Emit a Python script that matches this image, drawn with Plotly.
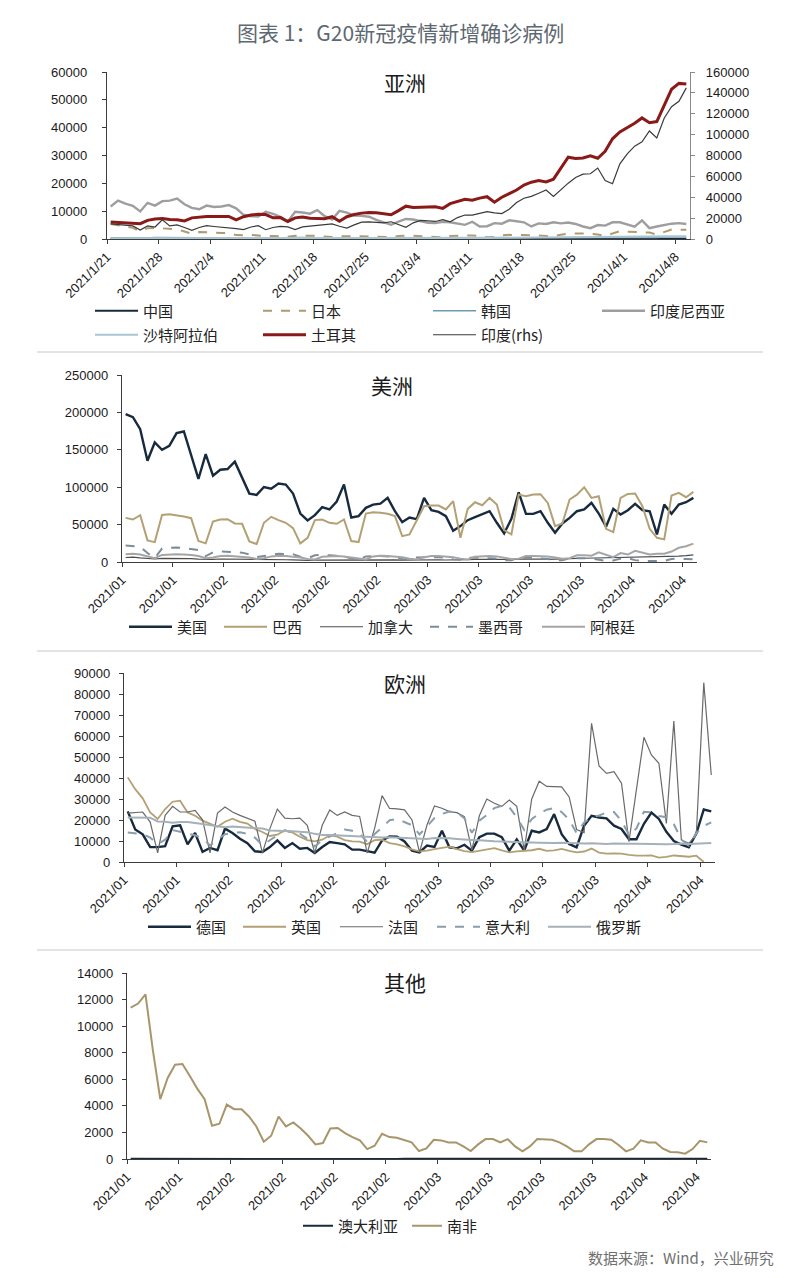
import plotly.graph_objects as go
import pandas as pd

# page body has an 8px margin; the figure is sized to fill the rest of the window
PAGE_W, PAGE_H = 800, 1278
OFF = 8
W, H = PAGE_W - 2 * OFF, PAGE_H - 2 * OFF

# ---------------- data (daily, 2021-01-21 .. 2021-04-09) ----------------
asia_ticktext = ['2021/1/21', '2021/1/28', '2021/2/4', '2021/2/11', '2021/2/18', '2021/2/25',
                 '2021/3/4', '2021/3/11', '2021/3/18', '2021/3/25', '2021/4/1', '2021/4/8']
month_ticktext = ['2021/01', '2021/01', '2021/02', '2021/02', '2021/02', '2021/02',
                  '2021/03', '2021/03', '2021/03', '2021/03', '2021/04', '2021/04']

# Asia
china = [140, 100, 80, 120, 80, 60, 80, 50, 60, 50,
         40, 30, 20, 20, 15, 15, 15, 10, 15, 15,
         10, 10, 10, 10, 10, 10, 10, 10, 10, 10,
         10, 10, 10, 10, 15, 10, 10, 10, 10, 10,
         10, 15, 15, 10, 10, 10, 10, 10, 15, 15,
         10, 10, 10, 10, 10, 15, 15, 15, 15, 15,
         15, 15, 15, 15, 10, 15, 20, 20, 20, 30,
         30, 30, 30, 25, 20, 30, 40, 30, 30]
japan = [5400, 5000, 4600, 4000, 2800, 3900, 4000, 3900, 3700, 3500,
         2700, 1900, 2500, 2500, 2300, 2200, 2100, 1400, 1300, 1500,
         1300, 1000, 1100, 1000, 800, 1200, 1300, 1200, 1100, 900,
         700, 1000, 1100, 1000, 1000, 900, 1000, 800, 700, 1100,
         1200, 1200, 1000, 900, 700, 600, 1100, 1200, 1200, 1300,
         1100, 600, 700, 1300, 1500, 1500, 1500, 1400, 1300, 1100,
         1100, 1500, 1900, 2000, 2000, 1900, 1600, 1100, 2000, 2800,
         2600, 2500, 2500, 2300, 1600, 2600, 3400, 3300, 3300]
korea = [400, 350, 390, 430, 440, 350, 560, 500, 470, 450,
         350, 300, 460, 470, 400, 390, 340, 300, 450, 500,
         400, 400, 340, 450, 620, 600, 560, 620, 460, 330,
         360, 440, 390, 400, 360, 350, 400, 420, 350, 340,
         400, 470, 460, 470, 450, 380, 360, 460, 460, 470,
         390, 420, 350, 360, 420, 450, 460, 500, 500, 480,
         420, 440, 480, 430, 380, 450, 440, 500, 550, 560,
         540, 560, 480, 460, 480, 670, 700, 680, 670]
indonesia = [11700, 13800, 12700, 11900, 9900, 13000, 12000, 13600, 13800, 14500,
             12500, 11200, 10700, 12000, 11500, 11700, 12200, 11000, 8700, 8200,
             8100, 9800, 9000, 8000, 6300, 9800, 9500, 9100, 10400, 8200,
             7000, 10100, 9500, 8400, 8300, 8000, 6900, 6000, 5100, 6200,
             7200, 7000, 6500, 5800, 5700, 6200, 6000, 5500, 5100, 6200,
             4500, 4600, 5700, 5500, 6700, 6400, 6000, 4500, 5600, 5400,
             6000, 5600, 5900, 5400, 4500, 3900, 5000, 4800, 6000, 6000,
             5200, 4400, 6700, 3900, 4500, 5000, 5500, 5700, 5400]
saudi = [230, 240, 230, 230, 220, 210, 220, 240, 250, 260,
         270, 280, 300, 300, 320, 330, 340, 350, 360, 330,
         320, 320, 310, 310, 300, 310, 320, 330, 340, 340,
         350, 340, 330, 330, 320, 340, 360, 360, 370, 380,
         380, 380, 380, 380, 390, 380, 380, 390, 400, 400,
         410, 400, 410, 420, 440, 460, 480, 500, 520, 560,
         600, 620, 660, 690, 720, 760, 780, 800, 820, 830,
         850, 870, 890, 900, 880, 900, 920, 950, 930]
turkey = [6100, 5900, 5900, 5500, 5500, 6700, 7200, 7400, 7000, 6900,
          6500, 7600, 7900, 8100, 8100, 8100, 8100, 6900, 8000, 8600,
          8900, 8800, 7600, 7700, 6300, 7600, 7900, 7500, 7400, 7300,
          8000, 6400, 8000, 8800, 9300, 9500, 9400, 9000, 8700, 10200,
          11800, 11300, 11300, 11500, 11600, 11000, 12700, 13400, 14300, 13900,
          14700, 15200, 13200, 15000, 16200, 17600, 19400, 20400, 21000, 20500,
          21500, 25500, 29400, 28900, 29100, 29900, 29000, 31500, 36000, 38500,
          40000, 41600, 43500, 41800, 42200, 48000, 53800, 55900, 55700]
india = [14500, 13800, 13500, 12500, 8500, 12500, 11500, 18400, 12500, 13500,
         11000, 8300, 11000, 12800, 12000, 11500, 11000, 10000, 9000, 11500,
         12700, 8900, 11000, 12100, 11600, 9000, 11600, 12200, 13200, 13800,
         14400, 12200, 10500, 13500, 16200, 16500, 16000, 15500, 16500, 14000,
         11200, 15500, 17800, 17400, 16800, 18500, 16500, 20500, 23000, 22800,
         24500, 26300, 25000, 24400, 28500, 35000, 39000, 40800, 43800, 47000,
         40800, 47200, 53500, 59000, 62200, 62500, 68000, 56000, 53000, 72000,
         81500, 89000, 93200, 103500, 96900, 115700, 126800, 132000, 144800]

# Americas
usa = [197600, 193600, 177600, 135400, 159800, 150000, 155400, 172300, 174500, 142000,
       111000, 144300, 115400, 123400, 124300, 134100, 113700, 91500, 89700, 100300,
       98100, 104800, 103500, 91500, 64800, 55500, 62600, 73300, 70200, 80800,
       103500, 59500, 61300, 72400, 76800, 78100, 85700, 67900, 53300, 59500,
       57300, 85700, 69300, 67000, 61300, 41700, 48000, 55900, 59900, 63500,
       67900, 52400, 38200, 57700, 93200, 64400, 64400, 67900, 52400, 39100,
       51500, 59000, 67900, 70200, 79000, 64800, 47100, 71000, 63500, 69300,
       77700, 69300, 67900, 36900, 76800, 64400, 76800, 79900, 85700]
brazil = [59000, 56800, 62600, 28900, 26600, 63000, 63900, 62600, 60800, 58600,
          28000, 24900, 54200, 56800, 57300, 51500, 51100, 27500, 24000, 52400,
          60400, 56000, 52400, 45300, 24900, 32400, 56000, 56800, 52400, 51100,
          56800, 28000, 26600, 64800, 66600, 65700, 64400, 61300, 34600, 36900,
          56800, 74600, 75500, 75500, 70200, 81300, 32400, 71000, 79900, 75900,
          85700, 76800, 42600, 36900, 90100, 87900, 90100, 90600, 79000, 48000,
          51500, 83500, 90100, 99900, 85700, 87900, 44400, 40000, 85700, 91000,
          91500, 74600, 44400, 32400, 30200, 88800, 92400, 86600, 93700]
canada = [6000, 6500, 5500, 4500, 4000, 4800, 5000, 5200, 4800, 4600,
          3800, 3200, 3500, 4000, 3800, 3700, 3500, 3000, 2800, 3000,
          3200, 3100, 3000, 2900, 2300, 2200, 2500, 2600, 2800, 3000,
          2900, 2200, 2300, 2800, 3000, 3000, 3100, 2800, 2500, 2800,
          2900, 3100, 3000, 3000, 2700, 2600, 2800, 3200, 3400, 3400,
          3400, 3200, 2600, 3500, 3800, 4000, 4200, 4000, 3500, 3600,
          4200, 4600, 4800, 5000, 5200, 4800, 5300, 5500, 5800, 6000,
          6500, 6000, 6200, 6800, 6500, 7000, 7800, 8500, 9500]
mexico = [22000, 21000, 20500, 12000, 5500, 18000, 19000, 19500, 18500, 17500,
          16000, 8000, 13000, 14000, 13500, 14000, 12500, 10000, 6500, 8000,
          10000, 11000, 10500, 10500, 7000, 5000, 9000, 9500, 9000, 8500,
          7500, 4500, 3000, 7500, 8000, 8000, 7500, 6500, 4000, 3500,
          6000, 6500, 7000, 6500, 5500, 3500, 3000, 5500, 6000, 6000,
          5000, 4500, 2500, 2500, 5500, 6000, 5500, 5000, 4000, 2500,
          2500, 5000, 5500, 5000, 4500, 3500, 1500, 2000, 4500, 5000,
          2500, 1500, 1500, 800, 1500, 4000, 4500, 4000, 3500]
argentina = [10500, 11000, 10000, 8000, 5000, 9500, 10500, 10500, 10000, 9500,
             8000, 5000, 6000, 8000, 8500, 8000, 7500, 6000, 4000, 5000,
             7500, 8500, 8000, 7500, 6000, 4000, 3500, 7000, 8000, 8000,
             7500, 6000, 4000, 3500, 7500, 8500, 8000, 7500, 6500, 4500,
             3500, 6500, 8000, 8000, 7500, 6500, 4500, 3500, 7000, 8000,
             8000, 7500, 6000, 4000, 4500, 8000, 8000, 8000, 7500, 6000,
             4500, 5000, 9000, 9000, 8500, 13000, 10000, 6500, 12000, 10000,
             15000, 12500, 10000, 11000, 11000, 14000, 19000, 21000, 24500]

# Europe
germany = [24100, 15500, 13200, 7100, 7100, 7500, 17000, 17500, 8400, 13800,
           4800, 6700, 5600, 15900, 13800, 11100, 9000, 5100, 4800, 7100,
           10300, 6700, 9000, 6300, 6700, 4300, 7100, 9500, 9000, 8400,
           5900, 5900, 5200, 4400, 10300, 12200, 12000, 9800, 5400, 4600,
           7800, 7200, 14900, 7000, 6500, 8200, 5400, 11800, 13500, 13500,
           11800, 5400, 10800, 5400, 14900, 14100, 15700, 22800, 13200, 8600,
           7000, 17300, 22000, 21200, 20800, 17300, 15700, 10800, 10800, 18200,
           23500, 20500, 14400, 10000, 8300, 7000, 13500, 25000, 24100]
uk = [40300, 34700, 30300, 23600, 20500, 25200, 28700, 29200, 23600, 22000,
      19700, 18100, 16800, 19200, 20600, 19100, 18300, 15700, 14300, 12400,
      13000, 15100, 14100, 12000, 10400, 9800, 10600, 12700, 12100, 10400,
      9800, 9700, 8500, 10400, 10600, 9000, 8400, 7400, 6000, 5100,
      5400, 6100, 6600, 7300, 6100, 5200, 4700, 5400, 5900, 6600,
      5500, 4600, 5100, 5400, 5600, 6300, 5300, 5500, 6200, 5300,
      4600, 5000, 6400, 4500, 4000, 4100, 4000, 3400, 3000, 3000,
      3100, 2100, 2400, 3100, 2800, 2500, 3000, 0, None]
france = [23300, 23500, 23800, 19000, 4300, 22200, 26500, 23800, 23800, 24600,
          20100, 4300, 23300, 26200, 23800, 22200, 20900, 19400, 4300, 15900,
          25200, 20900, 20600, 20900, 17500, 4300, 17500, 24800, 22200, 23800,
          22200, 21700, 4300, 16000, 31600, 25500, 25300, 24800, 20000, 4600,
          17600, 26700, 25600, 24000, 23500, 21600, 5700, 22000, 30000, 28000,
          26500, 29500, 26500, 5700, 30000, 38500, 36000, 35800, 35800, 31000,
          15500, 14000, 66000, 45700, 42200, 43000, 37500, 9700, 34000, 59400,
          51000, 47000, 18400, 67100, 10500, 8900, 13000, 85400, 41400]
italy = [14000, 13600, 13300, 11600, 8600, 10600, 15200, 14400, 13600, 12700,
         11300, 7900, 10600, 13200, 13700, 14200, 13400, 11600, 8000, 10400,
         13000, 15100, 13900, 13500, 11100, 7400, 10400, 12100, 13800, 15500,
         14900, 13500, 9600, 13300, 16400, 19900, 20500, 18900, 17500, 13100,
         17100, 20900, 22900, 24000, 23600, 20800, 13900, 19700, 22400, 25700,
         26800, 26100, 21300, 15300, 20400, 23100, 24900, 25700, 23800, 20200,
         13800, 18800, 21300, 22100, 23700, 23800, 19600, 12900, 16000, 23900,
         23600, 21900, 21300, 18000, 10700, 7800, 13700, 17200, 18900]
russia = [21200, 21100, 21000, 21100, 19300, 19200, 18700, 19100, 19000, 18600,
          18200, 17600, 17000, 16600, 16900, 16700, 16400, 16000, 15900, 15000,
          14900, 15000, 14700, 14400, 14200, 13400, 12800, 12900, 12700, 12800,
          12500, 12300, 12000, 11800, 11700, 11800, 11600, 11400, 11200, 11000,
          11000, 11400, 11500, 11300, 11000, 10900, 10500, 10300, 10000, 9900,
          9800, 9600, 9500, 9400, 9300, 9200, 9000, 9100, 9200, 9000,
          9000, 8800, 8900, 8700, 8600, 8800, 8600, 8700, 8700, 8600,
          8400, 8600, 8500, 8600, 8800, 8600, 8800, 8900, 9100]

# Others
australia = [10, 8, 6, 4, 5, 6, 8, 5, 4, 6,
             9, 8, 10, 7, 5, 4, 6, 12, 14, 10,
             6, 5, 8, 7, 5, 4, 3, 6, 5, 4,
             6, 8, 4, 3, 5, 6, 8, 10, 9, 7,
             8, 10, 12, 9, 6, 8, 10, 12, 14, 15,
             10, 8, 9, 12, 10, 8, 7, 10, 12, 14,
             16, 15, 12, 10, 14, 16, 12, 10, 9, 12,
             14, 15, 10, 8, 12, 14, 16, 12, 10]
south_africa = [11400, 11700, 12400, 8200, 4500, 6100, 7100, 7150, 6250, 5300,
                4500, 2500, 2650, 4100, 3750, 3750, 3200, 2450, 1300, 1750,
                3200, 2450, 2750, 2300, 1750, 1100, 1200, 2300, 2330, 1950,
                1650, 1400, 750, 1000, 1900, 1650, 1600, 1450, 1250, 600,
                800, 1450, 1400, 1250, 1250, 950, 600, 1100, 1500, 1500,
                1250, 1500, 950, 575, 950, 1500, 1500, 1450, 1250, 950,
                575, 575, 1100, 1500, 1500, 1450, 1050, 575, 775, 1400,
                1250, 1250, 775, 525, 500, 400, 750, 1375, 1250]

# ---------------- helpers (page pixel -> paper fraction) ----------------
def fx(px):
    return (px - OFF) / W


def fy(py):
    return 1 - (py - OFF) / H


def days(n):
    return pd.date_range('2021-01-21 12:00', periods=n, freq='D')


tick_dates = pd.date_range('2021-01-21', periods=12, freq='7D')
X_RANGE = ['2021-01-21', '2021-04-10']

CJK = 'Noto Sans CJK SC'
NUM = 'Liberation Sans, Arial, sans-serif'
AX = '#3c3c3c'

fig = go.Figure()

legend_layouts = {}
leg_counter = [0]


def add_series(vals, name, color, width, dash, xa, ya, line_start, leg_y, item_w=43):
    leg_counter[0] += 1
    key = 'legend' if leg_counter[0] == 1 else f'legend{leg_counter[0]}'
    fig.add_trace(go.Scatter(
        x=days(len(vals)), y=vals, name=name, mode='lines',
        line=dict(color=color, width=width, dash=dash),
        xaxis=xa, yaxis=ya, legend=key, connectgaps=False,
        hoverinfo='skip'))
    legend_layouts[key] = dict(
        x=fx(line_start - 5), y=fy(leg_y), xanchor='left', yanchor='middle',
        orientation='h', bgcolor='rgba(0,0,0,0)', borderwidth=0,
        font=dict(family=CJK, size=15, color='#222222'),
        itemwidth=item_w)


NAVY = '#172a3e'
TAN = '#b3a074'

# Panel 1: Asia
add_series(china, '中国', NAVY, 2.2, 'solid', 'x', 'y', 95, 311)
add_series(japan, '日本', '#b09a70', 2.0, 'dash', 'x', 'y', 263, 311)
add_series(korea, '韩国', '#6f9bb0', 1.4, 'solid', 'x', 'y', 433, 311)
add_series(indonesia, '印度尼西亚', '#9e9e9e', 2.4, 'solid', 'x', 'y', 602, 311)
add_series(saudi, '沙特阿拉伯', '#a9c6d2', 2.2, 'solid', 'x', 'y', 95, 335)
add_series(turkey, '土耳其', '#8a1a17', 3.0, 'solid', 'x', 'y', 263, 335)
add_series(india, '印度(rhs)', '#3a3a3a', 1.2, 'solid', 'x', 'y2', 433, 335)

# Panel 2: Americas
add_series(usa, '美国', NAVY, 2.4, 'solid', 'x2', 'y3', 129, 627)
add_series(brazil, '巴西', TAN, 2.0, 'solid', 'x2', 'y3', 224, 627)
add_series(canada, '加拿大', '#4d4d4d', 1.2, 'solid', 'x2', 'y3', 320, 627)
add_series(mexico, '墨西哥', '#7d8c99', 2.0, 'dash', 'x2', 'y3', 430, 627)
add_series(argentina, '阿根廷', '#a5a5a5', 2.0, 'solid', 'x2', 'y3', 542, 627)

# Panel 3: Europe
add_series(germany, '德国', NAVY, 2.4, 'solid', 'x3', 'y4', 148, 927)
add_series(uk, '英国', TAN, 1.8, 'solid', 'x3', 'y4', 243, 927)
add_series(france, '法国', '#6a6a6a', 1.2, 'solid', 'x3', 'y4', 340, 927)
add_series(italy, '意大利', '#8a9daa', 2.0, 'dash', 'x3', 'y4', 437, 927)
add_series(russia, '俄罗斯', '#a4b1b9', 2.0, 'solid', 'x3', 'y4', 548, 927)

# Panel 4: Others
add_series(australia, '澳大利亚', NAVY, 2.0, 'solid', 'x4', 'y5', 303, 1226, item_w=30)
add_series(south_africa, '南非', '#a8956a', 2.0, 'solid', 'x4', 'y5', 412, 1226, item_w=30)


def xaxis(domain, anchor, ticktext):
    return dict(domain=domain, anchor=anchor, type='date', range=X_RANGE,
                tickmode='array', tickvals=list(tick_dates), ticktext=ticktext,
                tickangle=-45, ticks='outside', ticklen=4, tickcolor=AX,
                showline=True, linecolor=AX, linewidth=1.3, showgrid=False,
                zeroline=False, automargin=False,
                tickfont=dict(family=NUM, size=13, color='#1a1a1a'))


def yaxis(domain, anchor, rng, dtick, standoff, **kw):
    d = dict(domain=domain, anchor=anchor, range=rng, dtick=dtick,
             ticks='outside', ticklen=4, tickcolor=AX, showline=True,
             linecolor=AX, linewidth=1.3, showgrid=False, zeroline=False,
             tickformat='d', ticklabelstandoff=standoff, automargin=False,
             tickfont=dict(family=NUM, size=13, color='#1a1a1a'))
    d.update(kw)
    return d


layout = dict(
    template='none',
    width=W, height=H, margin=dict(l=0, r=0, t=0, b=0, pad=0),
    paper_bgcolor='white', plot_bgcolor='white',
    showlegend=True,
    xaxis=xaxis([fx(107), fx(690)], 'y', asia_ticktext),
    yaxis=yaxis([fy(239), fy(72)], 'x', [0, 60000], 10000, 12),
    yaxis2=yaxis([fy(239), fy(72)], 'x', [0, 160000], 20000, 8,
                 overlaying='y', side='right', linecolor='#8a8a8a', tickcolor='#8a8a8a'),
    xaxis2=xaxis([fx(122), fx(697)], 'y3', month_ticktext),
    yaxis3=yaxis([fy(562), fy(375)], 'x2', [0, 250000], 50000, 6),
    xaxis3=xaxis([fx(124), fx(715)], 'y4', month_ticktext),
    yaxis4=yaxis([fy(862), fy(673)], 'x3', [0, 90000], 10000, 6),
    xaxis4=xaxis([fx(127), fx(711)], 'y5', month_ticktext),
    yaxis5=yaxis([fy(1159), fy(973)], 'x4', [0, 14000], 2000, 6),
)
layout.update(legend_layouts)
fig.update_layout(**layout)

# titles & notes
annots = [
    dict(text='图表 1：G20新冠疫情新增确诊病例', x=fx(400), y=fy(32), size=21, color='#5d6870'),
    dict(text='亚洲', x=fx(405), y=fy(82), size=21, color='#1a1a1a'),
    dict(text='美洲', x=fx(392), y=fy(385), size=21, color='#1a1a1a'),
    dict(text='欧洲', x=fx(405), y=fy(683), size=21, color='#1a1a1a'),
    dict(text='其他', x=fx(405), y=fy(982), size=21, color='#1a1a1a'),
]
for a in annots:
    fig.add_annotation(text=a['text'], x=a['x'], y=a['y'], xref='paper', yref='paper',
                       xanchor='center', yanchor='middle', showarrow=False,
                       font=dict(family=CJK, size=a['size'], color=a['color']))
fig.add_annotation(text='数据来源：Wind，兴业研究', x=fx(776), y=fy(1257), xref='paper',
                   yref='paper', xanchor='right', yanchor='middle', showarrow=False,
                   font=dict(family=CJK, size=15, color='#707070'))

# separators between panels
for sy in (352, 651, 950):
    fig.add_shape(type='line', xref='paper', yref='paper', x0=fx(37), x1=fx(763),
                  y0=fy(sy), y1=fy(sy), line=dict(color='#c8c8c8', width=1))

fig.write_html('out.html')
